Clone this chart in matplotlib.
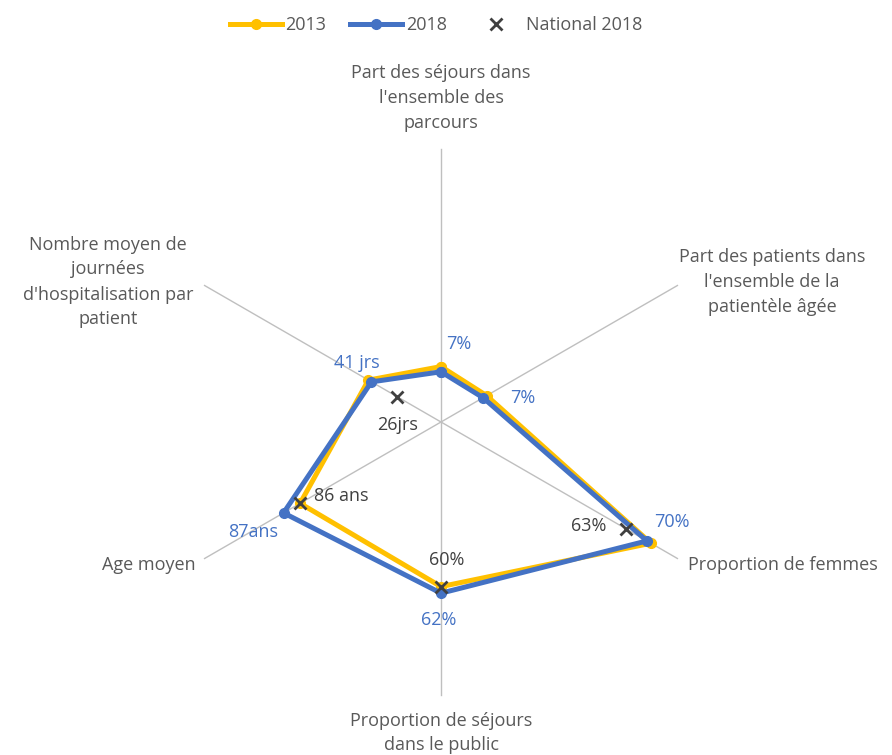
import numpy as np
import matplotlib
matplotlib.use("Agg")
import matplotlib.pyplot as plt
from matplotlib.lines import Line2D

plt.rcParams['font.family'] = ['Open Sans', 'DejaVu Sans']

# Axis categories (clockwise from top)
categories = [
    "Part des séjours dans\nl'ensemble des\nparcours",
    "Part des patients dans\nl'ensemble de la\npatientèle âgée",
    "Proportion de femmes",
    "Proportion de séjours\ndans le public",
    "Age moyen",
    "Nombre moyen de\njournées\nd'hospitalisation par\npatient",
]
# Normalised radial values
r_2013 = [0.203, 0.193, 0.888, 0.603, 0.596, 0.307]
r_2018 = [0.184, 0.178, 0.871, 0.627, 0.666, 0.294]
# National 2018 (only shown on 4 axes)
nat_idx = [2, 3, 4, 5]
r_nat = [0.783, 0.603, 0.596, 0.186]
labels_2018 = ["7%", "7%", "70%", "62%", "87ans", "41 jrs"]
labels_nat = ["63%", "60%", "86 ans", "26jrs"]

YELLOW = "#FFC000"
BLUE = "#4472C4"
GREY_TXT = "#595959"
AXIS = "#BFBFBF"

W, H = 892, 755
cx, cy, R = 441, 422, 273
fig = plt.figure(figsize=(W / 100, H / 100), dpi=100)
ax = fig.add_axes([0, 0, 1, 1])
ax.set_xlim(-cx / R, (W - cx) / R)
ax.set_ylim(-(H - cy) / R, cy / R)
ax.axis('off')

n = len(categories)
ang = np.deg2rad(90 - 60 * np.arange(n))
ux, uy = np.cos(ang), np.sin(ang)

for i in range(n):
    ax.plot([0, ux[i]], [0, uy[i]], color=AXIS, lw=1.0, zorder=1)

def xy(r, idx=None):
    r = np.asarray(r)
    if idx is None:
        idx = np.arange(n)
    return r * ux[idx], r * uy[idx]

x13, y13 = xy(r_2013)
x18, y18 = xy(r_2018)
ax.plot(np.r_[x13, x13[0]], np.r_[y13, y13[0]], color=YELLOW, lw=3.6, marker='o',
        ms=7, zorder=2, solid_joinstyle='round')
ax.plot(np.r_[x18, x18[0]], np.r_[y18, y18[0]], color=BLUE, lw=3.6, marker='o',
        ms=7, zorder=3, solid_joinstyle='round')
xn, yn = xy(r_nat, np.array(nat_idx))
ax.plot(xn, yn, ls='none', marker='x', ms=8, mew=2, color="#404040", zorder=4)

fs = 13
# 2018 data labels (pixel offsets)
off18 = [(18, 28, 'center'), (40, 0, 'center'), (25, 19, 'center'), (-2, -27, 'center'),
         (-30, -19, 'center'), (-15, 19, 'center')]
for i, (dx, dy, ha) in enumerate(off18):
    ax.annotate(labels_2018[i], (x18[i], y18[i]), xytext=(dx, dy), textcoords='offset pixels',
                ha=ha, va='center', color=BLUE, fontsize=fs)
offn = [(-20, 3, 'right'), (6, 27, 'center'), (14, 7, 'left'), (1, -28, 'center')]
for k, (dx, dy, ha) in enumerate(offn):
    ax.annotate(labels_nat[k], (xn[k], yn[k]), xytext=(dx, dy), textcoords='offset pixels',
                ha=ha, va='center', color="#404040", fontsize=fs)

# Category labels
lab_pos = [((441, 98), 'center'), ((772, 282), 'center'), ((688, 565), 'left'),
           ((441, 733), 'center'), ((196, 565), 'right'), ((108, 282), 'center')]
for i, ((px, py), ha) in enumerate(lab_pos):
    ax.text((px - cx) / R, (cy - py) / R, categories[i], ha=ha, va='center',
            ma='center', color=GREY_TXT, fontsize=fs, linespacing=1.5)

handles = [
    Line2D([], [], color=YELLOW, lw=3.6, marker='o', ms=7),
    Line2D([], [], color=BLUE, lw=3.6, marker='o', ms=7),
    Line2D([], [], ls='none', marker='x', ms=8, mew=2, color="#404040"),
]
fig.legend(handles, ["2013", "2018", "National 2018"], loc='center', bbox_to_anchor=(436 / W, 1 - 25 / H),
           ncol=3, frameon=False, fontsize=fs, labelcolor=GREY_TXT, handlelength=2.9,
           handletextpad=0.2, columnspacing=1.3)

fig.savefig("out.png", dpi=100)
